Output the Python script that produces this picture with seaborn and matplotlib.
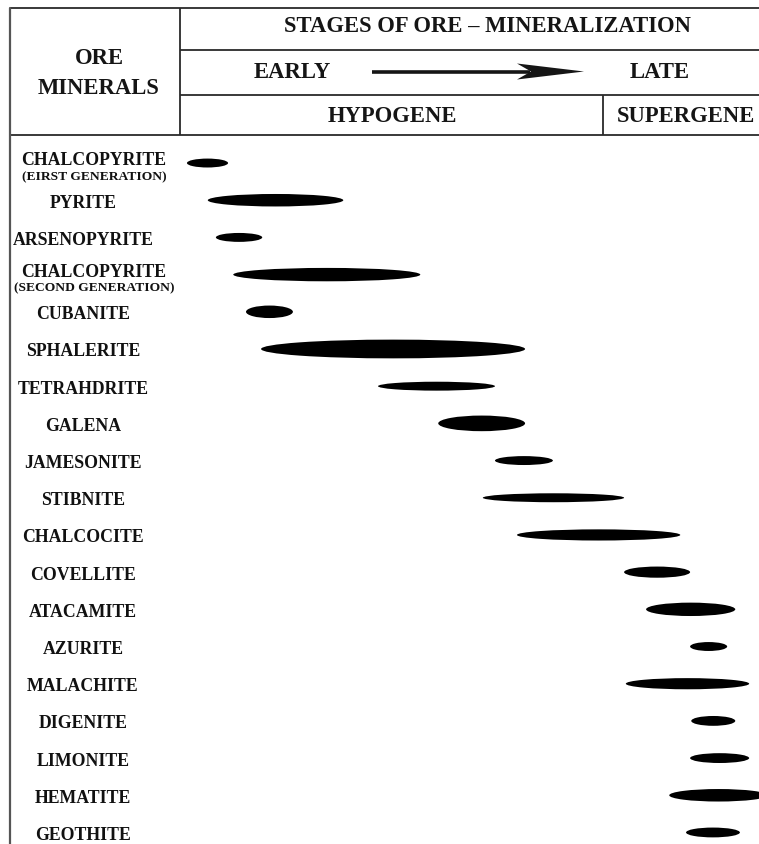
import matplotlib
matplotlib.use("Agg")
import matplotlib.pyplot as plt
import matplotlib.transforms as mtransforms
from matplotlib.patches import Ellipse, Polygon
import seaborn as sns
import pandas as pd

sns.set_theme(style="white")
plt.rcParams['font.family'] = ['Liberation Serif', 'DejaVu Serif']

# paragenetic sequence data (stage scale 0 = earliest, 100 = latest)
minerals = ["CHALCOPYRITE", "PYRITE", "ARSENOPYRITE", "CHALCOPYRITE", "CUBANITE",
            "SPHALERITE", "TETRAHDRITE", "GALENA", "JAMESONITE", "STIBNITE",
            "CHALCOCITE", "COVELLITE", "ATACAMITE", "AZURITE", "MALACHITE",
            "DIGENITE", "LIMONITE", "HEMATITE", "GEOTHITE"]
notes = ["(EIRST GENERATION)", "", "", "(SECOND GENERATION)", "", "", "", "", "", "",
         "", "", "", "", "", "", "", "", ""]
stage_start = [1.2, 4.8, 6.2, 9.2, 11.4, 14.0, 34.2, 44.6, 54.4, 52.3,
               58.2, 76.7, 80.5, 88.1, 77.0, 88.3, 88.1, 84.5, 87.4]
stage_end = [8.3, 28.2, 14.2, 41.5, 19.5, 59.6, 54.4, 59.6, 64.4, 76.7,
             86.4, 88.1, 95.9, 94.5, 98.3, 95.9, 98.3, 101.5, 96.7]
abundance = [1.0, 1.4, 1.0, 1.5, 1.4, 2.1, 1.0, 1.75, 1.0, 1.0,
             1.25, 1.25, 1.5, 1.0, 1.25, 1.1, 1.1, 1.4, 1.1]
hypogene_end = 73.1

df = pd.DataFrame({"mineral": minerals, "note": notes, "start": stage_start,
                   "end": stage_end, "abundance": abundance})
df["row"] = range(len(df))

W, H = 759, 844
fig = plt.figure(figsize=(W / 100, H / 100), dpi=100)

# frame / header in pixel coordinates
frame = fig.add_axes([0, 0, 1, 1])
frame.set_xlim(0, W)
frame.set_ylim(H, 0)
frame.axis('off')

# sequence panel
ax = fig.add_axes([180 / W, 0, (W - 180) / W, (H - 137) / H])
ax.set_xlim(0, 100)
ax.set_ylim(18.31, -0.70)
ax.axis('off')

line_kw = dict(color="#2a2a2a", lw=1.3, solid_capstyle="butt")
frame.plot([10, W], [8, 8], **line_kw)
frame.plot([180, W], [50, 50], **line_kw)
frame.plot([180, W], [95, 95], **line_kw)
frame.plot([10, W], [135, 135], **line_kw)
frame.plot([10, 10], [8, H], color="#555555", lw=1.6)
frame.plot([180, 180], [8, 135], **line_kw)

# hypogene / supergene divider, placed on the stage scale
div = mtransforms.blended_transform_factory(ax.transData, frame.transData)
frame.plot([hypogene_end, hypogene_end], [95, 135], transform=div, **line_kw)

hdr = dict(fontsize=16.3, fontweight="bold", color="#151515", ha="center", va="center")
frame.text(99, 58, "ORE", **hdr)
frame.text(99, 88, "MINERALS", **hdr)
frame.text(487, 27, "STAGES OF ORE \u2013 MINERALIZATION", **hdr)
frame.text(292, 72, "EARLY", **hdr)
frame.text(660, 72, "LATE", **hdr)
frame.text(392, 116, "HYPOGENE", **hdr)
frame.text(686, 116, "SUPERGENE", **hdr)

# arrow early -> late
frame.plot([372, 530], [71.5, 71.5], color="#151515", lw=2.6, solid_capstyle="butt")
frame.add_patch(Polygon([(517, 63.5), (584, 71.5), (517, 79.5), (531, 71.5)],
                        closed=True, color="#151515", lw=0))

# mineral labels: x in pixels, y on the row axis
lab = mtransforms.blended_transform_factory(frame.transData, ax.transData)
for _, r in df.iterrows():
    if r["note"]:
        ax.text(94, r["row"] - 0.06, r["mineral"], transform=lab, ha="center", va="center",
                fontsize=12.8, fontweight="bold", color="#111111")
        ax.text(94, r["row"] + 0.37, r["note"], transform=lab, ha="center", va="center",
                fontsize=9.7, fontweight="bold", color="#111111")
    else:
        ax.text(83, r["row"] + 0.08, r["mineral"], transform=lab, ha="center", va="center",
                fontsize=12.8, fontweight="bold", color="#111111")

# ellipses
for _, r in df.iterrows():
    ax.add_patch(Ellipse(((r["start"] + r["end"]) / 2, r["row"]),
                         width=r["end"] - r["start"], height=r["abundance"] * 0.24,
                         facecolor="black", edgecolor="none"))

fig.savefig("out.png", dpi=100, facecolor="white")
